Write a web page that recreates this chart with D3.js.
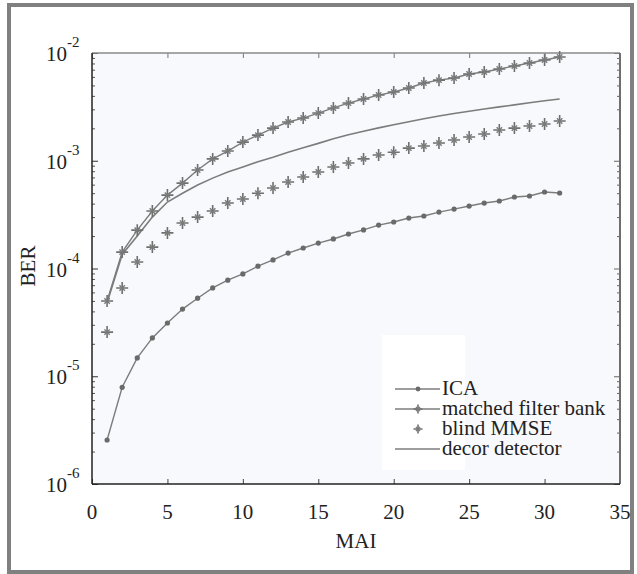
<!DOCTYPE html>
<html>
<head>
<meta charset="utf-8">
<script src="https://cdn.jsdelivr.net/npm/d3@7"></script>
<style>
  body { margin: 0; background: #fff; }
  text { font-family: "Liberation Serif", "Times New Roman", "DejaVu Serif", serif; }
</style>
</head>
<body>
<div id="vis"></div>
<script>
// MAI values 1..31
var mai = d3.range(1, 32);

var icaBer = [2.56e-6, 7.9e-6, 1.48e-5, 2.27e-5, 3.12e-5, 4.2e-5, 5.3e-5, 6.6e-5, 7.8e-5, 8.9e-5,
  1.05e-4, 1.2e-4, 1.39e-4, 1.55e-4, 1.72e-4, 1.88e-4, 2.09e-4, 2.28e-4, 2.53e-4, 2.7e-4,
  2.94e-4, 3.07e-4, 3.34e-4, 3.56e-4, 3.8e-4, 4.05e-4, 4.23e-4, 4.61e-4, 4.71e-4, 5.13e-4, 5.02e-4];

var matchedBer = [5.0e-5, 1.42e-4, 2.27e-4, 3.42e-4, 4.8e-4, 6.2e-4, 8.2e-4, 1.04e-3, 1.23e-3, 1.49e-3,
  1.73e-3, 2.01e-3, 2.29e-3, 2.49e-3, 2.77e-3, 3.09e-3, 3.43e-3, 3.74e-3, 4.07e-3, 4.35e-3,
  4.73e-3, 5.27e-3, 5.6e-3, 5.86e-3, 6.38e-3, 6.67e-3, 7.11e-3, 7.57e-3, 8.07e-3, 8.61e-3, 9.18e-3];

var mmseBer = [2.57e-5, 6.6e-5, 1.15e-4, 1.58e-4, 2.14e-4, 2.64e-4, 3.0e-4, 3.42e-4, 4.05e-4, 4.42e-4,
  5.0e-4, 5.58e-4, 6.35e-4, 7.06e-4, 7.87e-4, 8.75e-4, 9.53e-4, 1.04e-3, 1.13e-3, 1.2e-3,
  1.31e-3, 1.37e-3, 1.46e-3, 1.56e-3, 1.66e-3, 1.77e-3, 1.93e-3, 2.01e-3, 2.10e-3, 2.19e-3, 2.34e-3];

var decorBer = [4.8e-5, 1.35e-4, 2.0e-4, 3.0e-4, 4.14e-4, 5.0e-4, 5.96e-4, 6.9e-4, 7.87e-4, 8.75e-4,
  9.8e-4, 1.08e-3, 1.2e-3, 1.32e-3, 1.45e-3, 1.6e-3, 1.74e-3, 1.88e-3, 2.02e-3, 2.16e-3,
  2.3e-3, 2.45e-3, 2.6e-3, 2.74e-3, 2.88e-3, 3.02e-3, 3.16e-3, 3.3e-3, 3.45e-3, 3.6e-3, 3.74e-3];

var xTicks = [0, 5, 10, 15, 20, 25, 30, 35];
var yExps = [-2, -3, -4, -5, -6];
var legendNames = ['ICA', 'matched filter bank', 'blind MMSE', 'decor detector'];

var width = 637, height = 574;
var plot = { left: 92, right: 620, top: 53, bottom: 484 };
var lineColor = '#7c7c7c';
var serif = '"Liberation Serif", "Times New Roman", "DejaVu Serif", serif';

var svg = d3.select('#vis').append('svg')
  .attr('width', width)
  .attr('height', height)
  .attr('font-family', serif);

// outer frame
svg.append('rect')
  .attr('x', 9).attr('y', 5)
  .attr('width', 623).attr('height', 567)
  .attr('fill', '#fff')
  .attr('stroke', '#808080')
  .attr('stroke-width', 4);

var x = d3.scaleLinear().domain([0, 35]).range([plot.left, plot.right]);
var y = d3.scaleLog().domain([1e-6, 1e-2]).range([plot.bottom, plot.top]);

svg.append('rect')
  .attr('x', plot.left).attr('y', plot.top)
  .attr('width', plot.right - plot.left).attr('height', plot.bottom - plot.top)
  .attr('fill', '#f8f9fc');

// minor + major y ticks on left and right
var yMinor = [];
for (var e = -6; e < -2; e++) {
  for (var m = 2; m <= 9; m++) yMinor.push(m * Math.pow(10, e));
}

var leftAxis = d3.axisRight(y).tickValues(yMinor).tickSize(3).tickFormat('');
var rightAxis = d3.axisLeft(y).tickValues(yMinor).tickSize(3).tickFormat('');
svg.append('g').attr('transform', 'translate(' + plot.left + ',0)').call(leftAxis)
  .call(g => g.select('.domain').remove())
  .selectAll('line').attr('stroke', '#555');
svg.append('g').attr('transform', 'translate(' + plot.right + ',0)').call(rightAxis)
  .call(g => g.select('.domain').remove())
  .selectAll('line').attr('stroke', '#666');

var yMajor = yExps.map(function (p) { return Math.pow(10, p); });
svg.append('g').attr('transform', 'translate(' + plot.left + ',0)')
  .call(d3.axisRight(y).tickValues(yMajor).tickSize(6).tickFormat(''))
  .call(g => g.select('.domain').remove())
  .selectAll('line').attr('stroke', '#333');
svg.append('g').attr('transform', 'translate(' + plot.right + ',0)')
  .call(d3.axisLeft(y).tickValues(yMajor).tickSize(6).tickFormat(''))
  .call(g => g.select('.domain').remove())
  .selectAll('line').attr('stroke', '#666');

// x ticks bottom and top
svg.append('g').attr('transform', 'translate(0,' + plot.bottom + ')')
  .call(d3.axisTop(x).tickValues(xTicks).tickSize(5).tickFormat(''))
  .call(g => g.select('.domain').remove())
  .selectAll('line').attr('stroke', '#444');
svg.append('g').attr('transform', 'translate(0,' + plot.top + ')')
  .call(d3.axisBottom(x).tickValues(xTicks).tickSize(5).tickFormat(''))
  .call(g => g.select('.domain').remove())
  .selectAll('line').attr('stroke', '#777');

// plot border
svg.append('line').attr('x1', plot.left).attr('x2', plot.right)
  .attr('y1', plot.top).attr('y2', plot.top)
  .attr('stroke', '#8a8a8a').attr('stroke-width', 1.5);
svg.append('line').attr('x1', plot.right).attr('x2', plot.right)
  .attr('y1', plot.top).attr('y2', plot.bottom)
  .attr('stroke', '#6e6e6e').attr('stroke-width', 2);
svg.append('line').attr('x1', plot.left).attr('x2', plot.left)
  .attr('y1', plot.top).attr('y2', plot.bottom)
  .attr('stroke', '#222').attr('stroke-width', 1.5);
svg.append('line').attr('x1', plot.left).attr('x2', plot.right)
  .attr('y1', plot.bottom).attr('y2', plot.bottom)
  .attr('stroke', '#222').attr('stroke-width', 1.5);

// tick labels
svg.append('g').selectAll('text')
  .data(xTicks).enter().append('text')
  .attr('x', d => x(d))
  .attr('y', plot.bottom + 35)
  .attr('text-anchor', 'middle')
  .attr('font-size', 21)
  .attr('fill', '#222')
  .text(d => d);

var yLab = svg.append('g').selectAll('text')
  .data(yExps).enter().append('text')
  .attr('x', 46)
  .attr('y', d => y(Math.pow(10, d)) + 8)
  .attr('font-size', 21)
  .attr('fill', '#222');
yLab.append('tspan').text('10');
yLab.append('tspan').attr('dy', -14).attr('font-size', 15).text(d => d);

svg.append('text')
  .attr('x', (plot.left + plot.right) / 2)
  .attr('y', 548)
  .attr('text-anchor', 'middle')
  .attr('font-size', 21)
  .attr('fill', '#222')
  .text('MAI');

svg.append('text')
  .attr('transform', 'translate(35,' + 266 + ') rotate(-90)')
  .attr('text-anchor', 'middle')
  .attr('font-size', 21)
  .attr('fill', '#222')
  .text('BER');

// series
var line = d3.line()
  .x((d, i) => x(mai[i]))
  .y(d => y(d));

function starMarker(g, cx, cy, r) {
  g.append('path')
    .attr('d', 'M' + (cx - r) + ',' + cy + 'H' + (cx + r) + 'M' + cx + ',' + (cy - r) + 'V' + (cy + r))
    .attr('stroke', '#6f6f6f').attr('stroke-width', 1.6).attr('fill', 'none');
  var s = r * 0.45;
  g.append('path')
    .attr('d', 'M' + (cx - s) + ',' + (cy - s) + 'L' + (cx + s) + ',' + (cy + s) + 'M' + (cx + s) + ',' + (cy - s) + 'L' + (cx - s) + ',' + (cy + s))
    .attr('stroke', '#7a7a7a').attr('stroke-width', 1.4).attr('fill', 'none');
}

svg.append('path').datum(decorBer)
  .attr('d', line)
  .attr('fill', 'none').attr('stroke', lineColor).attr('stroke-width', 1.6);

svg.append('path').datum(matchedBer)
  .attr('d', line)
  .attr('fill', 'none').attr('stroke', lineColor).attr('stroke-width', 1.4);
var mg = svg.append('g');
matchedBer.forEach(function (d, i) { starMarker(mg, x(mai[i]), y(d), 6); });

var bg = svg.append('g');
mmseBer.forEach(function (d, i) { starMarker(bg, x(mai[i]), y(d), 6); });

svg.append('path').datum(icaBer)
  .attr('d', line)
  .attr('fill', 'none').attr('stroke', lineColor).attr('stroke-width', 1.4);
svg.append('g').selectAll('circle')
  .data(icaBer).enter().append('circle')
  .attr('cx', (d, i) => x(mai[i]))
  .attr('cy', d => y(d))
  .attr('r', 2.6)
  .attr('fill', '#6a6a6a');

// legend
svg.append('rect')
  .attr('x', 382).attr('y', 335)
  .attr('width', 83).attr('height', 135)
  .attr('fill', '#fff');

var legY = [389, 409, 429, 449];
var lg = svg.append('g');
legendNames.forEach(function (name, i) {
  var ly = legY[i];
  if (i !== 2) {
    lg.append('line').attr('x1', 395).attr('x2', 440)
      .attr('y1', ly).attr('y2', ly)
      .attr('stroke', lineColor).attr('stroke-width', 1.6);
  }
  if (i === 0) {
    lg.append('circle').attr('cx', 418).attr('cy', ly).attr('r', 2.4).attr('fill', '#6a6a6a');
  } else if (i === 1 || i === 2) {
    starMarker(lg, 418, ly, 4.5);
  }
  lg.append('text')
    .attr('x', 442).attr('y', ly + 6)
    .attr('font-size', 21)
    .attr('fill', '#222')
    .text(name);
});
</script>
</body>
</html>
